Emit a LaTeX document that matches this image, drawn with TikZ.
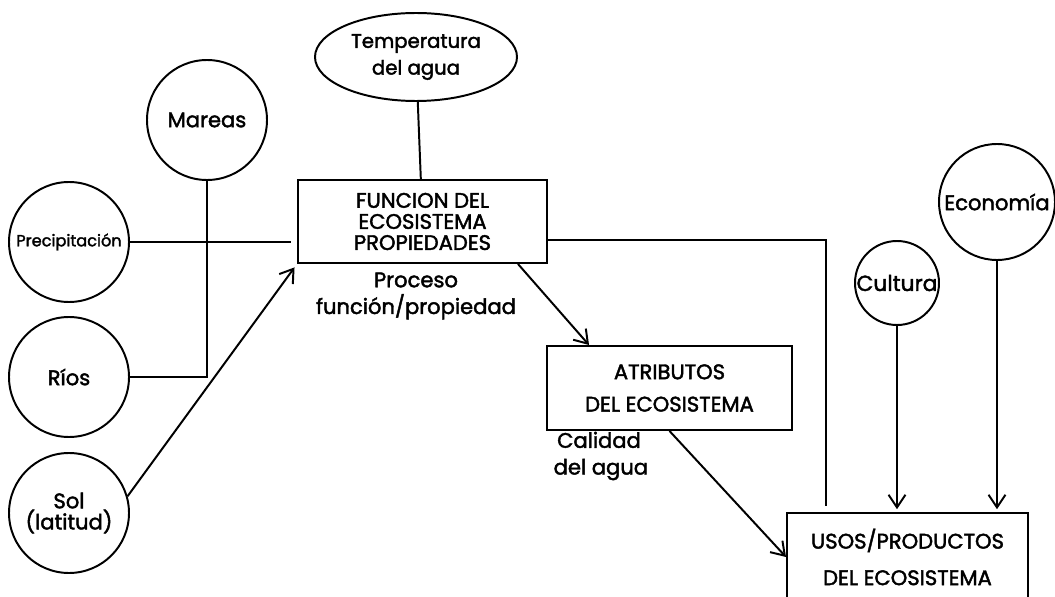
\documentclass[tikz,border=0pt]{standalone}
\usepackage{fontspec}
\setmainfont{Poppins}[UprightFeatures={FakeBold=2}]
\usetikzlibrary{arrows.meta,positioning,calc,shapes.geometric}

\begin{document}
\begin{tikzpicture}[line width=1.4pt,font=\fontsize{15}{15}\selectfont,
  factor/.style={draw,circle,inner sep=0pt,align=center,minimum size=3cm},
  caja/.style={draw,rectangle,inner sep=0pt,align=center},
  flecha/.style={-{Straight Barb[length=9pt,width=12pt,line width=1.4pt]}}]
\useasboundingbox (0,0) rectangle (26.375,-14.925);
\clip (0,0) rectangle (26.375,-14.925);
% factores externos
\node[draw,ellipse,minimum width=5.05cm,minimum height=2.2cm,inner sep=0pt,align=center,font=\fontsize{14}{19}\selectfont] (temp) at (10.4,-1.425) {Temperatura\\del agua};
\node[factor] (mareas) at (5.175,-3.0) {Mareas};
\node[factor,font=\fontsize{11.5}{12}\selectfont] (prec) at (1.725,-6.05) {Precipitación};
\node[factor] (rios) at (1.725,-9.425) {Ríos};
\node[factor] (sol) at (1.725,-12.825) {Sol\\(latitud)};
\node[factor,minimum size=2.1cm,font=\fontsize{15.5}{15}\selectfont] (cultura) at (22.425,-7.075) {Cultura};
\node[factor,minimum size=2.9cm] (economia) at (24.925,-5.05) {Economía};
% cajas
\node[caja,minimum width=6.225cm,minimum height=2.075cm] (func) at (10.5625,-5.5375) {FUNCION DEL\\ECOSISTEMA\\PROPIEDADES};
\node[caja,minimum width=6.125cm,minimum height=2.1cm] (atrib) at (16.7375,-9.7) {ATRIBUTOS\\[8pt]DEL ECOSISTEMA};
\node[caja,minimum width=6.025cm,minimum height=2.2cm] (usos) at (22.6875,-13.925) {USOS/PRODUCTOS\\[11pt]DEL ECOSISTEMA};
% textos
\node[align=center,font=\fontsize{15}{19}\selectfont] (proceso) at (10.4,-7.4) {Proceso\\función/propiedad};
\node[align=left,anchor=west,font=\fontsize{15}{19}\selectfont] (calidad) at (13.7,-11.4) {\,Calidad\\del agua};
% conexiones
\draw (temp) -- (func);
\draw (prec.east) -- ([xshift=-4pt]prec.east -| func.west);
\draw (mareas.south) |- (rios.east);
\draw[flecha,shorten >=3pt] (sol.16) -- (func.south west);
\draw[flecha] ([xshift=-0.75cm]func.south east) -- ([xshift=1.075cm]atrib.north west);
\draw[flecha] (atrib.south) -- (usos.west);
\draw[shorten >=4pt] ([yshift=-0.46cm]func.east) -| ([xshift=1cm]usos.north west);
\draw[flecha,shorten >=2pt] (cultura) -- (cultura.south |- usos.north);
\draw[flecha,shorten >=2pt] (economia) -- (economia.south |- usos.north);
\end{tikzpicture}
\end{document}
